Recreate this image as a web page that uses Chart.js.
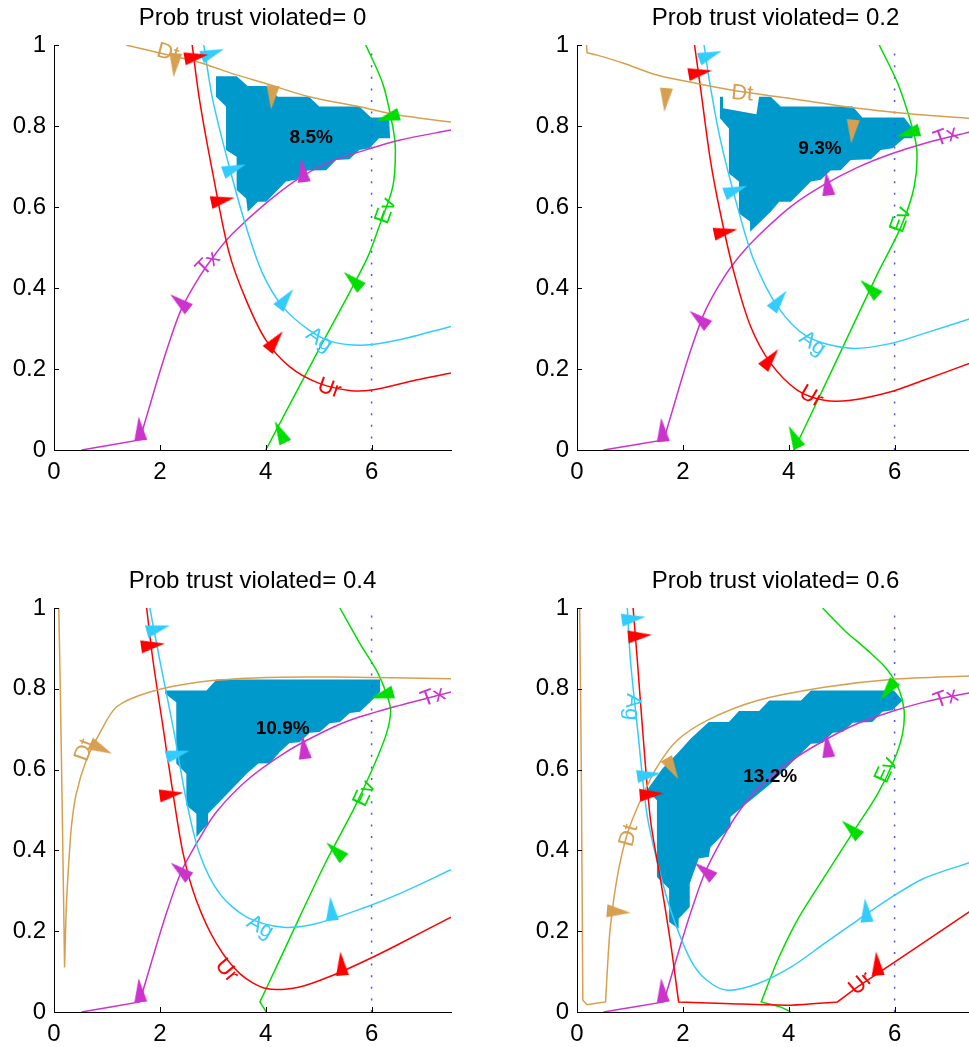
<!DOCTYPE html>
<html>
<head>
<meta charset="utf-8">
<script src="https://cdn.jsdelivr.net/npm/chart.js@4.4.1/dist/chart.umd.min.js"></script>
<style>
  html, body { margin: 0; padding: 0; background: #fff; overflow: hidden; width: 969px; height: 1047px; }
  canvas { position: absolute; }
</style>
</head>
<body>
<canvas id="c0" width="470" height="520"></canvas>
<canvas id="c1" width="470" height="520"></canvas>
<canvas id="c2" width="470" height="520"></canvas>
<canvas id="c3" width="470" height="520"></canvas>
<script>
// ===== data (one entry per panel) =====
const titles = ['Prob trust violated= 0', 'Prob trust violated= 0.2', 'Prob trust violated= 0.4', 'Prob trust violated= 0.6'];
const xTicks = [0, 2, 4, 6];
const yTicks = [0, 0.2, 0.4, 0.6, 0.8, 1];
const percentLabels = [['8.5%', 4.86, 0.772], ['9.3%', 4.59, 0.745], ['10.9%', 4.32, 0.701], ['13.2%', 3.65, 0.583]];

const dtCurves = [
  [[1.36,1.0],[2.0,0.98],[2.75,0.957],[3.4,0.928],[4.0,0.905],[4.8,0.873],[5.8,0.847],[6.5,0.827],[7.5,0.81]],
  [[0.18,1.0],[0.19,0.981],[0.19,0.981],[0.38,0.975],[0.88,0.955],[1.51,0.926],[2.27,0.905],[3.09,0.885],[4.04,0.868],[5.3,0.844],[6.56,0.827],[7.5,0.818]],
  [[0.09,1.0],[0.12,0.79],[0.16,0.46],[0.2,0.11],[0.2,0.11],[0.23,0.25],[0.27,0.35],[0.33,0.46],[0.42,0.54],[0.61,0.623],[0.86,0.689],[1.18,0.755],[1.81,0.792],[2.75,0.817],[4.0,0.828],[5.3,0.829],[7.5,0.825]],
  [[0.05,1.0],[0.08,0.62],[0.11,0.029],[0.11,0.029],[0.19,0.018],[0.19,0.018],[0.54,0.025],[0.54,0.025],[0.58,0.12],[0.63,0.21],[0.76,0.334],[0.95,0.441],[1.2,0.524],[1.51,0.606],[1.89,0.672],[2.46,0.722],[3.41,0.771],[4.67,0.804],[5.93,0.823],[7.5,0.832]]
];
const urCurves = [
  [[2.61,1.0],[2.75,0.864],[3.0,0.683],[3.31,0.486],[3.63,0.37],[4.0,0.272],[4.45,0.206],[5.0,0.165],[5.58,0.147],[6.0,0.148],[6.84,0.173],[7.5,0.19]],
  [[2.22,1.0],[2.33,0.897],[2.52,0.716],[2.71,0.584],[2.97,0.436],[3.28,0.305],[3.66,0.214],[4.16,0.148],[4.67,0.123],[5.17,0.123],[5.93,0.144],[6.56,0.173],[7.5,0.218]],
  [[1.75,1.0],[1.87,0.87],[2.06,0.705],[2.25,0.54],[2.44,0.392],[2.69,0.276],[3.07,0.169],[3.51,0.095],[4.01,0.058],[4.64,0.062],[5.27,0.091],[5.9,0.128],[6.53,0.169],[7.5,0.235]],
  [[1.06,1.0],[1.14,0.87],[1.26,0.664],[1.39,0.474],[1.58,0.326],[1.77,0.169],[1.92,0.025],[1.92,0.025],[2.78,0.021],[4.04,0.017],[4.92,0.025],[4.92,0.025],[5.3,0.062],[5.3,0.062],[7.5,0.256]]
];
const agCurves = [
  [[2.83,1.0],[3.0,0.864],[3.31,0.70],[3.63,0.551],[3.94,0.436],[4.32,0.354],[4.82,0.296],[5.26,0.267],[5.89,0.259],[6.52,0.272],[7.5,0.305]],
  [[2.4,1.0],[2.52,0.897],[2.71,0.765],[3.03,0.601],[3.34,0.469],[3.79,0.354],[4.35,0.28],[5.17,0.251],[5.93,0.263],[6.56,0.288],[7.5,0.327]],
  [[1.81,1.0],[2.0,0.87],[2.25,0.705],[2.5,0.524],[2.75,0.392],[3.13,0.293],[3.64,0.235],[4.33,0.21],[4.96,0.219],[5.9,0.26],[6.53,0.293],[7.5,0.352]],
  [[0.95,1.0],[1.01,0.87],[1.14,0.705],[1.32,0.491],[1.51,0.375],[1.77,0.252],[2.15,0.128],[2.46,0.078],[2.84,0.054],[3.41,0.07],[4.04,0.111],[4.67,0.169],[5.3,0.227],[5.93,0.283],[6.56,0.331],[7.5,0.373]]
];
const txCurves = [
  [[0.52,0],[1.62,0.025],[1.62,0.025],[1.72,0.07],[1.84,0.123],[1.99,0.189],[2.15,0.255],[2.4,0.346],[2.75,0.428],[3.06,0.486],[3.38,0.535],[4.0,0.609],[4.64,0.672],[5.26,0.714],[5.89,0.741],[6.52,0.765],[7.5,0.79]],
  [[0.5,0],[1.64,0.025],[1.64,0.025],[1.74,0.07],[1.86,0.123],[2.01,0.189],[2.17,0.255],[2.42,0.343],[2.77,0.425],[3.08,0.48],[3.41,0.527],[4.04,0.601],[4.67,0.655],[5.3,0.698],[5.93,0.731],[6.56,0.757],[7.5,0.788]],
  [[0.52,0],[1.62,0.025],[1.62,0.025],[1.72,0.07],[1.84,0.123],[1.99,0.189],[2.15,0.255],[2.4,0.346],[2.75,0.43],[3.06,0.494],[3.64,0.573],[4.33,0.639],[4.96,0.685],[5.59,0.722],[6.53,0.759],[7.5,0.792]],
  [[0.5,0],[1.64,0.025],[1.64,0.025],[1.74,0.07],[1.86,0.123],[2.01,0.189],[2.17,0.255],[2.42,0.346],[2.77,0.435],[3.08,0.5],[3.41,0.553],[4.04,0.621],[4.67,0.672],[5.3,0.714],[5.93,0.743],[6.56,0.767],[7.5,0.792]]
];
const evCurves = [
  [[5.89,1.0],[6.21,0.905],[6.4,0.798],[6.45,0.74],[6.4,0.65],[6.14,0.551],[5.9,0.469],[4.95,0.235],[4.0,0]],
  [[5.71,1.0],[6.06,0.905],[6.31,0.807],[6.42,0.741],[6.37,0.65],[6.12,0.551],[5.68,0.436],[4.9,0.22],[4.1,0]],
  [[5.4,1.0],[5.78,0.912],[6.09,0.846],[6.28,0.788],[6.36,0.747],[6.28,0.689],[6.03,0.606],[5.65,0.499],[5.15,0.375],[4.64,0.235],[4.2,0.111],[3.89,0.025],[3.89,0.025],[4.01,0]],
  [[4.64,1.0],[5.05,0.945],[5.49,0.895],[5.87,0.846],[6.09,0.796],[6.18,0.747],[6.15,0.689],[5.99,0.623],[5.68,0.54],[5.24,0.45],[4.67,0.334],[4.16,0.227],[3.79,0.128],[3.48,0.025],[3.48,0.025],[3.85,0.012],[4.04,0]]
];

// arrow heads: [x, y, direction in degrees]
const dtArrows = [
  [[2.28,0.95,95],[4.12,0.87,95]],
  [[1.67,0.864,95],[5.2,0.786,95]],
  [[0.89,0.652,25]],
  [[0.79,0.248,5],[1.8,0.602,60]]
];
const urArrows = [
  [[2.69,0.971,-10],[3.19,0.617,-12],[4.18,0.27,-51]],
  [[2.33,0.932,-10],[2.81,0.539,-12],[3.66,0.226,-51]],
  [[1.87,0.908,-8],[2.22,0.539,-8],[5.43,0.12,-95]],
  [[1.19,0.931,-5],[1.41,0.539,-5],[5.67,0.12,-95]]
];
const agArrows = [
  [[3.0,0.98,-20],[3.41,0.695,-20],[4.38,0.374,-52]],
  [[2.52,0.975,-20],[3.0,0.642,-20],[3.82,0.37,-52]],
  [[1.97,0.949,-15],[2.34,0.639,-15],[5.24,0.256,-95]],
  [[1.07,0.974,-8],[1.36,0.587,-8],[5.46,0.252,-95]]
];
const txArrows = [
  [[1.62,0.053,-95],[2.37,0.366,-141],[4.7,0.691,-97]],
  [[1.61,0.05,-95],[2.3,0.325,-141],[4.73,0.658,-97]],
  [[1.62,0.054,-95],[2.38,0.351,-141],[4.72,0.656,-97]],
  [[1.61,0.054,-95],[2.4,0.351,-141],[4.73,0.66,-97]]
];
const evArrows = [
  [[6.3,0.821,164],[5.64,0.42,-138],[4.27,0.045,-116]],
  [[6.25,0.782,164],[5.52,0.4,-138],[4.1,0.033,-116]],
  [[6.19,0.784,164],[5.31,0.4,-138]],
  [[5.87,0.796,128],[5.17,0.454,-138]]
];

// curve name labels: [name, x, y, rotation deg]
const curveLabels = [
  [['Dt',2.15,0.98,15],['Tx',2.91,0.46,-45],['Ag',5.01,0.272,35],['Ur',5.2,0.152,20],['Ev',6.27,0.59,-70]],
  [['Dt',3.12,0.88,5],['Ur',4.42,0.132,30],['Ag',4.45,0.263,35],['Tx',6.97,0.774,-20],['Ev',6.12,0.568,-70]],
  [['Dt',0.58,0.648,-70],['Ur',3.26,0.103,50],['Ag',3.89,0.21,30],['Tx',7.16,0.78,-20],['Ev',5.87,0.54,-65]],
  [['Dt',0.98,0.437,-75],['Ur',5.36,0.07,-40],['Ag',1.04,0.755,95],['Tx',6.97,0.776,-20],['Ev',5.84,0.598,-65]]
];

// shaded region outline
const regions = [
  [[3.06,0.923],[3.45,0.923],[3.66,0.899],[4.01,0.899],[4.23,0.872],[4.82,0.872],[5.01,0.848],[5.77,0.848],[5.99,0.821],[6.33,0.821],[6.35,0.77],[6.14,0.77],[5.96,0.745],[5.77,0.741],[5.58,0.718],[5.33,0.716],[5.14,0.691],[4.79,0.69],[4.57,0.667],[4.38,0.663],[4.01,0.613],[3.85,0.613],[3.66,0.588],[3.63,0.621],[3.45,0.642],[3.45,0.724],[3.25,0.741],[3.25,0.848],[3.06,0.872]],
  [[2.70,0.872],[2.76,0.872],[2.76,0.844],[3.39,0.829],[3.44,0.872],[3.66,0.872],[3.85,0.848],[5.21,0.848],[5.39,0.821],[6.18,0.821],[6.34,0.794],[6.34,0.77],[6.18,0.77],[5.96,0.745],[5.74,0.741],[5.55,0.718],[5.17,0.716],[4.98,0.691],[4.79,0.69],[4.61,0.667],[4.42,0.663],[4.04,0.613],[3.82,0.613],[3.66,0.588],[3.27,0.539],[3.27,0.564],[3.06,0.584],[3.06,0.663],[2.87,0.683],[2.87,0.794],[2.70,0.819]],
  [[2.10,0.796],[2.88,0.796],[3.07,0.823],[6.16,0.823],[6.16,0.792],[5.97,0.767],[5.78,0.743],[5.59,0.740],[5.40,0.718],[5.21,0.715],[5.02,0.693],[4.83,0.691],[4.64,0.668],[4.45,0.666],[4.27,0.644],[4.08,0.616],[3.86,0.615],[3.64,0.590],[2.91,0.491],[2.91,0.466],[2.69,0.433],[2.69,0.491],[2.50,0.512],[2.50,0.590],[2.31,0.615],[2.31,0.767],[2.10,0.788]],
  [[2.49,0.718],[2.87,0.718],[3.06,0.745],[3.44,0.745],[3.63,0.771],[4.23,0.771],[4.42,0.796],[5.99,0.796],[6.15,0.771],[5.96,0.747],[5.77,0.743],[5.58,0.718],[5.21,0.716],[5.02,0.693],[4.83,0.691],[4.64,0.666],[4.42,0.664],[4.04,0.615],[3.66,0.565],[3.28,0.524],[2.90,0.483],[2.90,0.458],[2.52,0.408],[2.49,0.384],[2.30,0.380],[2.13,0.318],[2.13,0.260],[1.92,0.231],[1.92,0.206],[1.74,0.223],[1.74,0.305],[1.51,0.334],[1.51,0.524],[1.32,0.549],[1.61,0.602],[1.89,0.639],[2.15,0.677]]
];

const refLineX = 6;

// ===== styling =====
const colors = { Dt: '#d6a050', Ur: '#ff0000', Ag: '#33ccff', Tx: '#cc33cc', Ev: '#00dd00' };
const curves = { Dt: dtCurves, Ur: urCurves, Ag: agCurves, Tx: txCurves, Ev: evCurves };
const arrows = { Dt: dtArrows, Ur: urArrows, Ag: agArrows, Tx: txArrows, Ev: evArrows };
const FONT = '"Liberation Sans", Arial, Helvetica, sans-serif';

Chart.defaults.font.family = FONT;
Chart.defaults.color = '#000';

function arrowHead(color) {
  const c = document.createElement('canvas');
  c.width = 26; c.height = 26;
  const g = c.getContext('2d');
  g.fillStyle = color;
  g.beginPath();
  g.moveTo(25, 13); g.lineTo(1, 6.5); g.lineTo(1, 19.5);
  g.closePath(); g.fill();
  return c;
}
const heads = {};
Object.keys(colors).forEach(k => { heads[k] = arrowHead(colors[k]); });

const toXY = arr => arr.map(p => ({ x: p[0], y: p[1] }));

// titles, inward ticks, curve labels
const decor = {
  id: 'decor',
  afterDatasetsDraw(chart, args, opts) {
    const { ctx, scales: { x, y } } = chart;
    const i = opts.panel;
    ctx.save();
    ctx.font = '22px ' + FONT;
    ctx.textAlign = 'center';
    ctx.textBaseline = 'middle';
    curveLabels[i].forEach(([name, lx, ly, rot]) => {
      ctx.save();
      ctx.translate(x.getPixelForValue(lx), y.getPixelForValue(ly));
      ctx.rotate(rot * Math.PI / 180);
      ctx.fillStyle = colors[name];
      ctx.fillText(name, 0, 0);
      ctx.restore();
    });
    const [txt, px, py] = percentLabels[i];
    ctx.font = 'bold 19px ' + FONT;
    ctx.fillStyle = '#000';
    ctx.fillText(txt, x.getPixelForValue(px), y.getPixelForValue(py));
    ctx.restore();
  },
  afterDraw(chart, args, opts) {
    const { ctx, chartArea: a, scales: { x, y } } = chart;
    ctx.save();
    ctx.strokeStyle = '#000';
    ctx.lineWidth = 1;
    ctx.beginPath();
    xTicks.forEach(v => { const p = Math.round(x.getPixelForValue(v)) + 0.5; ctx.moveTo(p, a.bottom); ctx.lineTo(p, a.bottom - 5); });
    yTicks.forEach(v => { const p = Math.round(y.getPixelForValue(v)) + 0.5; ctx.moveTo(a.left, p); ctx.lineTo(a.left + 5, p); });
    ctx.stroke();
    ctx.font = '24px ' + FONT;
    ctx.fillStyle = '#000';
    ctx.textAlign = 'center';
    ctx.textBaseline = 'alphabetic';
    ctx.fillText(titles[opts.panel], (a.left + a.right) / 2, a.top - 20);
    ctx.restore();
  }
};

const layoutInfo = [
  { left: 0,   top: 0,   yw: 54, pt: 45, h: 405 },
  { left: 522, top: 0,   yw: 55, pt: 45, h: 405 },
  { left: 0,   top: 562, yw: 54, pt: 46, h: 404 },
  { left: 522, top: 562, yw: 55, pt: 46, h: 404 }
];

function makeChart(i) {
  const L = layoutInfo[i];
  const el = document.getElementById('c' + i);
  el.style.left = L.left + 'px';
  el.style.top = L.top + 'px';

  const datasets = [];
  Object.keys(colors).forEach(name => {
    datasets.push({
      label: name + ' arrows',
      data: toXY(arrows[name][i]),
      showLine: false,
      pointStyle: heads[name],
      pointRadius: 6,
      pointRotation: arrows[name][i].map(a => a[2]),
      order: 1
    });
    datasets.push({
      label: name,
      data: toXY(curves[name][i]),
      borderColor: colors[name],
      borderWidth: 1.5,
      tension: 0.3,
      pointRadius: 0,
      fill: false,
      order: 5
    });
  });
  datasets.push({
    label: 'x = 6',
    data: [{ x: refLineX, y: 0 }, { x: refLineX, y: 1 }],
    borderColor: '#5050f0',
    borderWidth: 1.5,
    borderDash: [2, 9.6],
    pointRadius: 0,
    order: 8
  });
  datasets.push({
    label: 'region',
    data: toXY(regions[i]),
    fill: 'shape',
    backgroundColor: '#0099cc',
    borderColor: 'rgba(0,0,0,0)',
    borderWidth: 1,
    tension: 0,
    pointRadius: 0,
    order: 10
  });

  new Chart(el, {
    type: 'line',
    data: { datasets },
    options: {
      responsive: false,
      animation: false,
      events: [],
      layout: { padding: { left: 0, top: L.pt, right: 470 - L.yw - 397, bottom: 520 - L.pt - L.h - 50 } },
      plugins: { legend: { display: false }, tooltip: { enabled: false }, decor: { panel: i } },
      scales: {
        x: {
          type: 'linear', min: 0, max: 7.5,
          afterBuildTicks: s => { s.ticks = xTicks.map(v => ({ value: v })); },
          afterFit: s => { s.height = 50; },
          grid: { display: false, drawTicks: false },
          border: { display: true, color: '#000', width: 1 },
          ticks: { font: { size: 24 }, padding: 8, maxRotation: 0, autoSkip: false }
        },
        y: {
          type: 'linear', min: 0, max: 1,
          afterBuildTicks: s => { s.ticks = yTicks.map(v => ({ value: v })); },
          afterFit: s => { s.width = L.yw; },
          grid: { display: false, drawTicks: false },
          border: { display: true, color: '#000', width: 1 },
          ticks: { font: { size: 24 }, padding: 8, autoSkip: false, callback: v => String(v) }
        }
      }
    },
    plugins: [decor]
  });
}

[0, 1, 2, 3].forEach(makeChart);
</script>
</body>
</html>
